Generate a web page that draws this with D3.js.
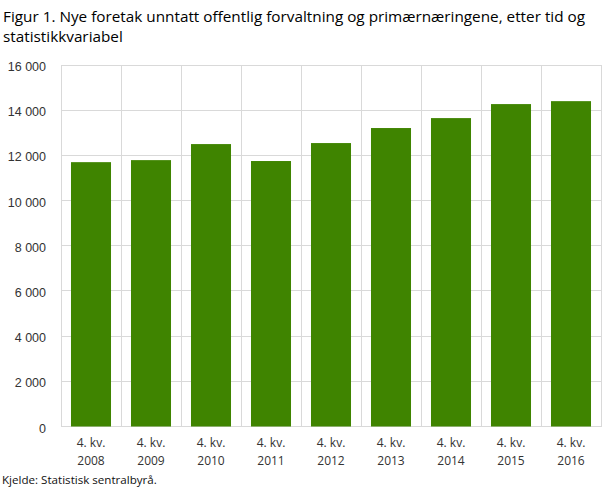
<!DOCTYPE html>
<html><head><meta charset="utf-8">
<script src="https://cdn.jsdelivr.net/npm/d3@7"></script>
<style>body{margin:0;background:#fff}svg{display:block}</style>
</head><body>
<svg id="c" width="609" height="489"></svg>
<script>
const categories = ["4. kv. 2008","4. kv. 2009","4. kv. 2010","4. kv. 2011","4. kv. 2012","4. kv. 2013","4. kv. 2014","4. kv. 2015","4. kv. 2016"];
const values = [11700, 11790, 12500, 11750, 12545, 13210, 13650, 14270, 14400];
const yTicks = [0,2000,4000,6000,8000,10000,12000,14000,16000];
const titleLines = ["Figur 1. Nye foretak unntatt offentlig forvaltning og primærnæringene, etter tid og","statistikkvariabel"];
const source = "Kjelde: Statistisk sentralbyrå.";

const svg = d3.select("#c");
const m = {l:61, r:601, t:65, b:426.5};
const x = d3.scaleBand().domain(categories).range([m.l, m.r]).paddingInner(0.333).paddingOuter(0.1665);
const y = d3.scaleLinear().domain([0,16000]).range([m.b, m.t]);
const fmt = v => d3.format(",")(v).replace(/,/g, "\u00a0");

// horizontal grid
svg.append("g").selectAll("line").data(yTicks).join("line")
  .attr("x1", m.l).attr("x2", m.r).attr("y1", d=>y(d)).attr("y2", d=>y(d))
  .attr("stroke", "#d9d9d9").attr("stroke-width", 1).attr("shape-rendering","crispEdges");
// vertical grid at band boundaries
const bounds = categories.map(c => x(c) - x.step()*x.paddingInner()/2).concat([m.r]);
bounds[0] = m.l;
svg.append("g").selectAll("line").data(bounds).join("line")
  .attr("x1", d=>d).attr("x2", d=>d).attr("y1", m.t).attr("y2", m.b)
  .attr("stroke", "#d9d9d9").attr("stroke-width", 1).attr("shape-rendering","crispEdges");

// bars
svg.append("g").selectAll("rect").data(values).join("rect")
  .attr("x", (d,i)=>x(categories[i])).attr("width", x.bandwidth())
  .attr("y", d=>y(d)).attr("height", d=>y(0)-y(d))
  .attr("fill", "#3f8400");

// y labels
svg.append("g").selectAll("text").data(yTicks).join("text")
  .attr("x", 46).attr("y", d=>y(d)+6).attr("text-anchor","end")
  .attr("font-family","'Liberation Sans', Arial, sans-serif").attr("font-size", 12.5).attr("fill","#333")
  .text(fmt);

// x labels
const xl = svg.append("g").selectAll("text").data(categories).join("text")
  .attr("text-anchor","middle").attr("font-family","'Open Sans', sans-serif").attr("font-size", 12).attr("fill","#333");
xl.each(function(d){
  const parts = d.match(/^(.*) (\d{4})$/);
  const t = d3.select(this), cx = x(d)+x.bandwidth()/2;
  t.append("tspan").attr("x", cx).attr("y", 447).text(parts[1]);
  t.append("tspan").attr("x", cx).attr("y", 465).text(parts[2]);
});

// title
svg.append("text").attr("font-family","'Open Sans', sans-serif").attr("font-size", 15.3).attr("fill","#000")
  .selectAll("tspan").data(titleLines).join("tspan").attr("x", 3).attr("y", (d,i)=>22+i*20).text(d=>d);

// source
svg.append("text").attr("x", 2).attr("y", 484).attr("font-family","'Open Sans', sans-serif").attr("font-size", 11.6).attr("fill","#111").text(source);
</script>
</body></html>
